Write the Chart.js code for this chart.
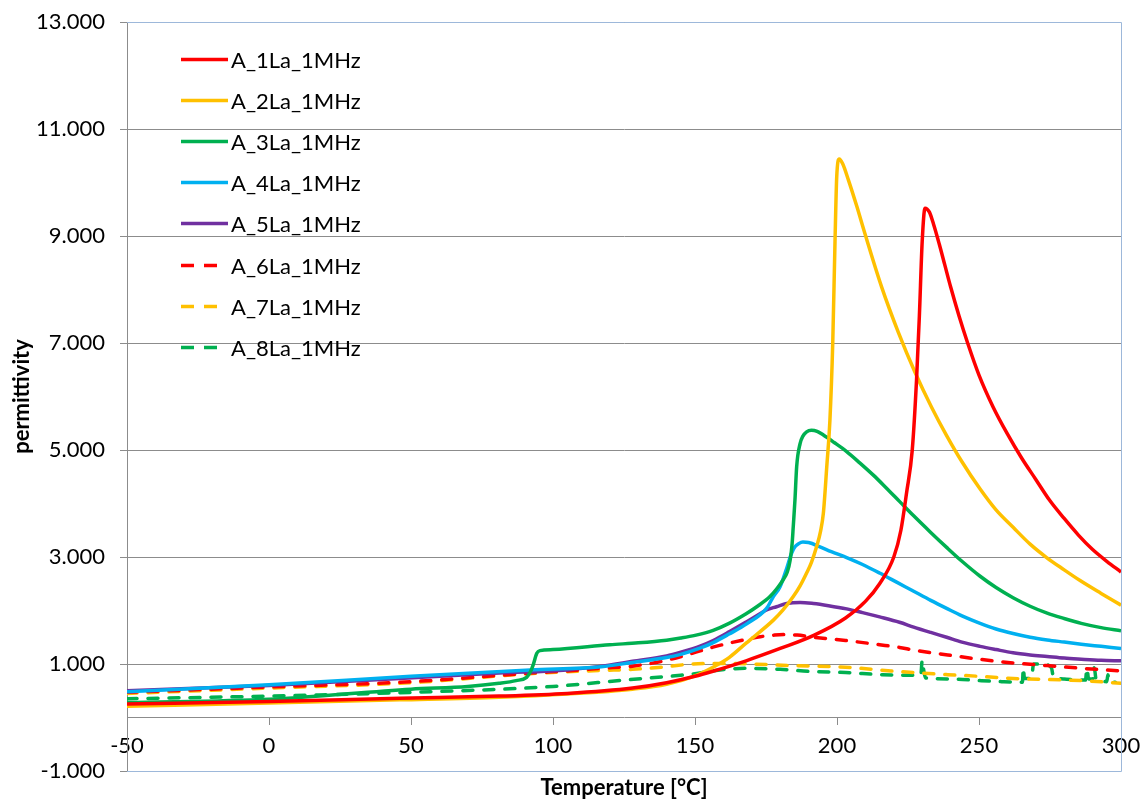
<!DOCTYPE html>
<html>
<head>
<meta charset="utf-8">
<script src="https://cdn.jsdelivr.net/npm/chart.js@4.4.1/dist/chart.umd.min.js"></script>
<style>
  html, body { margin: 0; padding: 0; background: #ffffff; }
  #wrap { width: 1143px; height: 800px; }
</style>
</head>
<body>
<div id="wrap"><canvas id="chart" width="1143" height="800"></canvas></div>
<script>
// Series labels
const seriesNames = ['A_1La_1MHz', 'A_2La_1MHz', 'A_3La_1MHz', 'A_4La_1MHz',
                     'A_5La_1MHz', 'A_6La_1MHz', 'A_7La_1MHz', 'A_8La_1MHz'];

// Axis ticks
const tempTicks = [-50, 0, 50, 100, 150, 200, 250, 300];
const permTicks = [-1000, 1000, 3000, 5000, 7000, 9000, 11000, 13000];

// Measured permittivity vs temperature [°C], 1 MHz
const tempA1 = [-50, 0, 46, 81, 105, 128, 140, 150, 156, 168, 180, 192, 203, 210, 215, 220, 222.5, 224.5, 226.5, 228, 229, 230, 231, 232.5, 234, 236, 238, 240, 243, 246, 250, 255, 260, 265, 270, 275, 280, 285, 290, 295, 300];
const permA1 = [250, 300, 360, 400, 450, 550, 650, 770, 860, 1060, 1290, 1540, 1860, 2170, 2500, 3000, 3500, 4200, 5000, 6300, 7500, 8900, 9520, 9450, 9220, 8850, 8450, 8050, 7500, 7000, 6400, 5800, 5300, 4850, 4450, 4050, 3720, 3410, 3140, 2920, 2720];

const tempA2 = [-50, 0, 46, 81, 105, 128, 140, 150, 156, 162, 168, 177.6, 181, 184.6, 187, 189.3, 191, 192.8, 194.2, 195.2, 196.4, 197.5, 198.5, 199.3, 199.9, 200.8, 202, 204, 207, 209.8, 215.7, 221.6, 227.5, 233.3, 238.6, 244, 250.4, 256, 262.1, 268, 273.8, 280, 285.6, 293, 300];
const permA2 = [210, 270, 330, 380, 440, 530, 620, 780, 930, 1120, 1390, 1820, 2010, 2260, 2460, 2700, 2900, 3190, 3480, 3820, 4690, 5550, 7000, 8900, 10100, 10440, 10350, 10050, 9550, 9050, 8050, 7200, 6450, 5800, 5270, 4780, 4270, 3880, 3550, 3240, 2990, 2760, 2560, 2320, 2100];

const tempA3 = [-50, 0, 50, 70, 81, 87, 90.7, 92, 93, 94.3, 95.4, 100, 120, 130, 140, 145, 150, 156.4, 162, 168, 172, 176.4, 179, 181, 182.5, 183.5, 184.2, 184.6, 185.2, 185.8, 187, 188, 189.3, 191, 193, 195.2, 199, 203.4, 208, 212.8, 217, 222, 227, 233, 238.6, 244, 250.4, 256, 262, 268, 274, 280, 286, 293, 300];
const permA3 = [280, 340, 530, 580, 640, 690, 750, 850, 980, 1200, 1250, 1270, 1360, 1395, 1445, 1485, 1535, 1630, 1760, 1940, 2080, 2260, 2420, 2570, 2720, 2940, 3250, 3570, 4070, 4690, 5120, 5260, 5340, 5370, 5350, 5280, 5140, 4970, 4760, 4530, 4310, 4040, 3770, 3460, 3180, 2920, 2640, 2430, 2240, 2080, 1950, 1850, 1760, 1680, 1620];

const tempA4 = [-50, 0, 50, 92, 117, 128, 140, 145, 152, 156.4, 162, 168.2, 175.2, 177.6, 180, 182.3, 184, 185.2, 186.5, 188, 190, 194, 198, 203.4, 209, 215, 221, 227, 233, 238.6, 244, 250.4, 256, 262, 268, 274, 280, 286, 293, 300];
const permA4 = [480, 610, 770, 890, 950, 1030, 1120, 1180, 1300, 1400, 1560, 1750, 2040, 2260, 2450, 2790, 3070, 3190, 3250, 3280, 3270, 3190, 3100, 2990, 2860, 2700, 2530, 2360, 2190, 2040, 1900, 1760, 1655, 1570, 1500, 1450, 1410, 1370, 1330, 1290];

const tempA5 = [-50, 0, 46, 81, 105, 117, 128, 140, 145, 152, 156.4, 162, 168.2, 172, 175.2, 178.7, 182.3, 187, 191.7, 197, 203.4, 209, 215, 222, 227, 233, 238.6, 244, 250.4, 256, 262, 268, 274, 280, 286, 293, 300];
const permA5 = [500, 600, 730, 830, 890, 960, 1050, 1150, 1220, 1340, 1440, 1600, 1790, 1910, 2010, 2070, 2130, 2150, 2130, 2090, 2030, 1960, 1880, 1780, 1690, 1590, 1500, 1410, 1330, 1270, 1210, 1170, 1140, 1110, 1090, 1070, 1060];

const tempA6 = [-50, 0, 50, 92, 105, 117, 128, 140, 149, 156, 162, 168, 173, 178, 182, 186, 192, 203, 215, 222, 227, 239, 250, 262, 274, 286, 300];
const permA6 = [470, 570, 670, 830, 870, 920, 960, 1070, 1200, 1310, 1390, 1460, 1510, 1540, 1550, 1540, 1500, 1440, 1360, 1310, 1260, 1170, 1090, 1020, 970, 920, 870];

const tempA7 = [-50, 0, 50, 92, 117, 128, 140, 149, 160, 170, 184, 203, 219, 227, 239, 250, 262, 274, 286, 300];
const permA7 = [450, 550, 650, 820, 880, 900, 950, 1000, 1010, 1000, 970, 940, 870, 840, 800, 770, 730, 710, 690, 640];

const tempA8 = [-50, 0, 50, 100, 125, 145, 150, 156, 168, 180, 191, 203, 216, 229.5, 230, 230.6, 231.2, 240, 250, 258, 265.3, 265.6, 266, 268.5, 269.2, 273, 275.5, 276.2, 280, 285, 287.5, 288, 288.6, 290, 290.6, 291.2, 293, 295, 295.4, 295.8, 298];
const permA8 = [350, 400, 470, 580, 700, 790, 820, 870, 920, 900, 860, 840, 800, 790, 1070, 860, 740, 720, 690, 670, 660, 930, 730, 730, 1000, 990, 930, 760, 720, 700, 700, 920, 720, 720, 930, 720, 680, 670, 800, 670, 660];

const temps = [tempA1, tempA2, tempA3, tempA4, tempA5, tempA6, tempA7, tempA8];
const perms = [permA1, permA2, permA3, permA4, permA5, permA6, permA7, permA8];
const colors = ['#FF0000', '#FFC000', '#00B050', '#00B0F0', '#7030A0', '#FF0000', '#FFC000', '#00B050'];
const dashed = [false, false, false, false, false, true, true, true];

const FONT = 'Lato, "Open Sans", sans-serif';
const TEXT = '#000000';
const GRID = '#8c8c8c';
const FRAME = '#9db8da';

// "13000" -> "13.000"
function groupThousands(v) {
  const s = Math.abs(Math.round(v)).toString().replace(/\B(?=(\d{3})+(?!\d))/g, '.');
  return (v < 0 ? '-' : '') + s;
}

const datasets = seriesNames.map((name, i) => ({
  label: name,
  data: temps[i].map((t, k) => ({ x: t, y: perms[i][k] })),
  borderColor: colors[i],
  backgroundColor: colors[i],
  borderWidth: 3.5,
  borderDash: dashed[i] ? [10, 11] : [],
  borderCapStyle: dashed[i] ? 'round' : 'butt',
  borderJoinStyle: 'round',
  pointRadius: 0,
  pointHoverRadius: 0,
  fill: false,
  cubicInterpolationMode: 'monotone'
}));

// Plot frame (top, right, bottom) drawn under the curves
const plotFrame = {
  id: 'plotFrame',
  beforeDatasetsDraw(chart) {
    const { ctx, chartArea: a } = chart;
    ctx.save();
    ctx.strokeStyle = FRAME;
    ctx.lineWidth = 1;
    ctx.beginPath();
    ctx.moveTo(a.left, a.top + 0.5);
    ctx.lineTo(a.right + 0.5, a.top + 0.5);
    ctx.lineTo(a.right + 0.5, a.bottom + 0.5);
    ctx.lineTo(a.left, a.bottom + 0.5);
    ctx.stroke();
    ctx.restore();
  }
};

// Legend placed inside the plot, one row per series
const insetLegend = {
  id: 'insetLegend',
  afterDatasetsDraw(chart) {
    const { ctx, chartArea: a } = chart;
    const x0 = a.left + 54;
    const y0 = a.top + 36.5;
    const rowGap = 41.2;
    ctx.save();
    ctx.font = '22px ' + FONT;
    ctx.textBaseline = 'middle';
    ctx.textAlign = 'left';
    chart.data.datasets.forEach((ds, i) => {
      const y = Math.round(y0 + i * rowGap) + 0.5;
      ctx.strokeStyle = ds.borderColor;
      ctx.lineWidth = 3.5;
      ctx.lineCap = 'butt';
      ctx.beginPath();
      if (dashed[i]) {
        ctx.setLineDash([13, 10]);
        ctx.moveTo(x0, y);
        ctx.lineTo(x0 + 36, y);
      } else {
        ctx.setLineDash([]);
        ctx.moveTo(x0, y);
        ctx.lineTo(x0 + 47, y);
      }
      ctx.stroke();
      ctx.setLineDash([]);
      ctx.fillStyle = TEXT;
      ctx.fillText(ds.label, x0 + 50, y + 1);
    });
    ctx.restore();
  }
};

// Axis titles
const axisTitles = {
  id: 'axisTitles',
  afterDraw(chart) {
    const { ctx, chartArea: a } = chart;
    ctx.save();
    ctx.fillStyle = TEXT;
    ctx.font = 'bold 22px ' + FONT;
    ctx.textAlign = 'center';
    ctx.textBaseline = 'middle';
    ctx.fillText('Temperature [°C]', (a.left + a.right) / 2, 788);
    ctx.translate(22, (a.top + a.bottom) / 2);
    ctx.rotate(-Math.PI / 2);
    ctx.fillText('permittivity', 0, 0);
    ctx.restore();
  }
};

new Chart(document.getElementById('chart'), {
  type: 'line',
  data: { datasets },
  plugins: [plotFrame, insetLegend, axisTitles],
  options: {
    responsive: false,
    devicePixelRatio: 1,
    animation: false,
    events: [],
    layout: { padding: { left: 0, top: 22, right: 22, bottom: 29 } },
    plugins: {
      legend: { display: false },
      tooltip: { enabled: false },
      title: { display: false }
    },
    scales: {
      x: {
        type: 'linear',
        position: { y: 0 },
        min: tempTicks[0],
        max: tempTicks[tempTicks.length - 1],
        afterBuildTicks(scale) { scale.ticks = tempTicks.map(v => ({ value: v })); },
        afterFit(scale) { scale.paddingLeft = 0; scale.paddingRight = 0; },
        ticks: {
          color: TEXT,
          font: { family: FONT, size: 22 },
          padding: 8,
          maxRotation: 0,
          autoSkip: false,
          callback: v => String(v)
        },
        grid: { drawOnChartArea: false, drawTicks: true, tickLength: 7, color: GRID, lineWidth: 1 },
        border: { display: true, color: GRID, width: 1 }
      },
      y: {
        type: 'linear',
        position: 'left',
        min: permTicks[0],
        max: permTicks[permTicks.length - 1],
        afterBuildTicks(scale) { scale.ticks = permTicks.map(v => ({ value: v })); },
        afterFit(scale) { scale.width = 127; scale.paddingTop = 0; scale.paddingBottom = 0; },
        ticks: {
          color: TEXT,
          font: { family: FONT, size: 22 },
          padding: 15,
          autoSkip: false,
          callback: v => groupThousands(v)
        },
        grid: { color: GRID, lineWidth: 1, drawTicks: true, tickLength: 7 },
        border: { display: true, color: GRID, width: 1 }
      }
    }
  }
});
</script>
</body>
</html>
